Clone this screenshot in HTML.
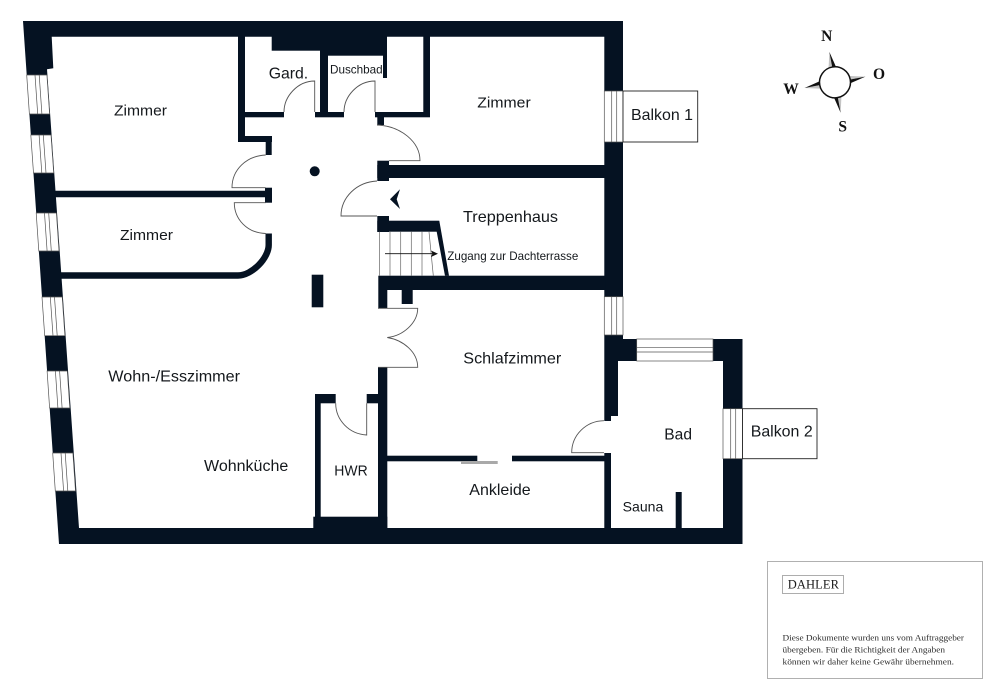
<!DOCTYPE html>
<html lang="de">
<head>
<meta charset="utf-8">
<title>Grundriss</title>
<style>
html,body{margin:0;padding:0;background:#fff;width:1000px;height:700px;overflow:hidden}
svg{display:block}
text{font-family:"Liberation Sans",sans-serif;fill:#14181c}
.s{font-family:"Liberation Serif",serif;fill:#2b2b2b}
</style>
</head>
<body>
<svg width="1000" height="700" viewBox="0 0 1000 700" xmlns="http://www.w3.org/2000/svg">
<rect width="1000" height="700" fill="#fff"/>

<!-- Outer shell -->
<polygon fill="#051222" points="23,21 623,21 623,339 742.5,339 742.5,544 59,544"/>
<!-- Interior -->
<polygon fill="#fff" points="51.7,36.7 604.3,36.7 604.3,528 79,528 47,69.3 53.3,68.3"/>
<polygon fill="#fff" points="618,361 723,361 723,528 611,528 611,453 604,453 604,421 611,421 611,416 618,416"/>

<!-- Walls -->
<g fill="#051222">
<rect x="238" y="36" width="7" height="106"/>
<rect x="238" y="136" width="34" height="6"/>
<rect x="265.7" y="136" width="6" height="19"/>
<rect x="245" y="112" width="39" height="5.3"/>
<rect x="271.7" y="36" width="115.3" height="14.7"/>
<rect x="320" y="50" width="67" height="5.7"/>
<rect x="320" y="50" width="8" height="67"/>
<rect x="383" y="50" width="4" height="28"/>
<rect x="423.3" y="36" width="6.7" height="81"/>
<rect x="315" y="112" width="29" height="5.3"/>
<rect x="375" y="112" width="55" height="5.3"/>
<rect x="377.3" y="117" width="6.7" height="8"/>
<rect x="377.3" y="160.7" width="11.7" height="20.3"/>
<rect x="377.3" y="165" width="228" height="13"/>
<rect x="377.3" y="216" width="11.7" height="16"/>
<rect x="377.3" y="220.7" width="61" height="11"/>
<polygon points="438,220.7 439.3,220.7 449,275.7 445,275.7 436.7,231.7"/>
<rect x="378.3" y="275.7" width="227" height="14.3"/>
<rect x="378.3" y="290" width="9" height="18.3"/>
<rect x="401.7" y="290" width="11" height="14"/>
<rect x="378" y="367" width="9.3" height="162"/>
<rect x="315" y="394" width="20.7" height="9.3"/>
<rect x="366.7" y="394" width="12" height="9.3"/>
<rect x="315" y="394" width="5.7" height="135"/>
<rect x="313.3" y="516.7" width="74" height="12"/>
<rect x="311.7" y="274.7" width="11.6" height="32.6"/>
<polygon points="54,190.7 265.7,190.7 265.7,197.3 55,197.3"/>
<rect x="265" y="187.7" width="7" height="15"/>
<path d="M268.7,233.5 V245 C268.7,258 252,275.5 238,275.5 H60" fill="none" stroke="#051222" stroke-width="6.4"/>
<rect x="387" y="455.7" width="90.3" height="5.6"/>
<rect x="512" y="455.7" width="93" height="5.6"/>
<rect x="675.7" y="492" width="6" height="37"/>
<circle cx="314.7" cy="171.3" r="5"/>
<polygon points="390,199.3 400,189.3 396.7,199.3 400,209"/>
</g>
<rect x="461" y="461" width="36.7" height="3" fill="#a9a9a9"/>

<!-- Doors -->
<g fill="none" stroke="#555" stroke-width="0.9">
<path d="M284,112 C284,96 298,81 314.7,81 V112"/>
<path d="M344,112 C344,96 358,81 375,81 V112"/>
<path d="M377,125 C401,126 420,142 420,160.7 H389"/>
<path d="M377,181 C357,182 341,197 341,216 H377"/>
<path d="M265.7,155 C246,156 232,170 232,187.7 H265.7"/>
<path d="M265.7,233.5 C247,233 234.3,219 234.3,202.7 H265.7"/>
<path d="M378,308.3 H417.7 C417.7,323 403,336 387.3,337.5 C403,340 417.7,352 417.7,367.3 H378"/>
<path d="M366.7,403.3 V435 C349,434 335.7,420 335.7,403.3"/>
<path d="M604,420.7 C586,421 571.7,435 571.7,452.7 H604"/>
</g>

<!-- Stairs -->
<g fill="none" stroke="#666" stroke-width="0.7">
<path d="M379.5,231.7 V275.7 M390,231.7 V275.7 M400.7,231.7 V275.7 M411.3,231.7 V275.7 M422,231.7 V275.7 M429,231.7 L433.3,275.7"/>
</g>
<path d="M385,253.7 H433" stroke="#111" stroke-width="0.8" fill="none"/>
<polygon points="438,253.7 431,250.5 432.5,253.7 431,257" fill="#111"/>

<!-- Windows -->
<g fill="#fff" stroke="#555" stroke-width="0.7">
<path d="M26.7,75 H46.9 L49.6,114 H29.4 Z M35,75 L37.7,114 M39.2,75 L41.9,114"/>
<path d="M30.8,135 H51 L53.7,173 H33.5 Z M39.1,135 L41.8,173 M43.3,135 L46,173"/>
<path d="M36.2,213 H56.4 L59,251 H38.8 Z M44.5,213 L47.1,251 M48.7,213 L51.3,251"/>
<path d="M42,297 H62.2 L64.9,335.7 H44.7 Z M50.3,297 L53,335.7 M54.5,297 L57.2,335.7"/>
<path d="M47.1,371 H67.3 L69.8,408 H49.6 Z M55.4,371 L57.9,408 M59.6,371 L62.1,408"/>
<path d="M52.7,453 H72.9 L75.5,491 H55.3 Z M61,453 L63.6,491 M65.2,453 L67.8,491"/>
<rect x="604.3" y="91" width="18.7" height="51"/>
<path d="M611.7,91 V142 M616.7,91 V142"/>
<rect x="604.3" y="296.7" width="18.7" height="38.3"/>
<path d="M611.7,296.7 V335 M616.7,296.7 V335"/>
<rect x="636.7" y="339" width="76.3" height="22"/>
<path d="M636.7,347.7 H713 M636.7,352 H713"/>
<rect x="723" y="408.7" width="19.5" height="50"/>
<path d="M730.7,408.7 V458.7 M735.7,408.7 V458.7"/>
</g>

<!-- Balconies -->
<rect x="623" y="91" width="74.7" height="51" fill="#fff" stroke="#222" stroke-width="0.9"/>
<rect x="742.5" y="408.7" width="74.5" height="50" fill="#fff" stroke="#222" stroke-width="0.9"/>

<!-- Labels -->
<text x="114" y="115.7" font-size="15" textLength="53" lengthAdjust="spacingAndGlyphs">Zimmer</text>
<text x="120" y="240" font-size="15" textLength="53" lengthAdjust="spacingAndGlyphs">Zimmer</text>
<text x="268.7" y="78.7" font-size="16" textLength="39.5" lengthAdjust="spacingAndGlyphs">Gard.</text>
<text x="330" y="73.3" font-size="12" textLength="52.7" lengthAdjust="spacingAndGlyphs">Duschbad</text>
<text x="477.3" y="107.3" font-size="15" textLength="53.4" lengthAdjust="spacingAndGlyphs">Zimmer</text>
<text x="631" y="120" font-size="16" textLength="62" lengthAdjust="spacingAndGlyphs">Balkon 1</text>
<text x="463" y="222" font-size="16" textLength="95" lengthAdjust="spacingAndGlyphs">Treppenhaus</text>
<text x="447.3" y="260" font-size="12" textLength="131" lengthAdjust="spacingAndGlyphs">Zugang zur Dachterrasse</text>
<text x="108.3" y="381.7" font-size="15.5" textLength="131.7" lengthAdjust="spacingAndGlyphs">Wohn-/Esszimmer</text>
<text x="204" y="471" font-size="15.5" textLength="84.3" lengthAdjust="spacingAndGlyphs">Wohnküche</text>
<text x="334.3" y="475.7" font-size="14.5" textLength="33.4" lengthAdjust="spacingAndGlyphs">HWR</text>
<text x="463.3" y="363.7" font-size="16" textLength="98" lengthAdjust="spacingAndGlyphs">Schlafzimmer</text>
<text x="469.3" y="495" font-size="16" textLength="61.4" lengthAdjust="spacingAndGlyphs">Ankleide</text>
<text x="664.3" y="439.7" font-size="15.5" textLength="27.7" lengthAdjust="spacingAndGlyphs">Bad</text>
<text x="750.7" y="436.7" font-size="16" textLength="62" lengthAdjust="spacingAndGlyphs">Balkon 2</text>
<text x="622.7" y="511.3" font-size="14" textLength="40.6" lengthAdjust="spacingAndGlyphs">Sauna</text>

<!-- Compass -->
<g transform="translate(835,82.3) rotate(-10.5)">
<polygon points="0,-31 -4,-14 0,-15" fill="#c4c4c4"/><polygon points="0,-31 4,-14 0,-15" fill="#111"/>
<g transform="rotate(90)"><polygon points="0,-31 -4,-14 0,-15" fill="#c4c4c4"/><polygon points="0,-31 4,-14 0,-15" fill="#111"/></g>
<g transform="rotate(180)"><polygon points="0,-31 -4,-14 0,-15" fill="#c4c4c4"/><polygon points="0,-31 4,-14 0,-15" fill="#111"/></g>
<g transform="rotate(270)"><polygon points="0,-31 -4,-14 0,-15" fill="#c4c4c4"/><polygon points="0,-31 4,-14 0,-15" fill="#111"/></g>
<circle cx="0" cy="0" r="15.5" fill="#fff" stroke="#111" stroke-width="1.5"/>
</g>
<g font-weight="bold" font-size="15.5" text-anchor="middle">
<text class="s" style="fill:#111" x="826.7" y="41">N</text>
<text class="s" style="fill:#111" x="879" y="79">O</text>
<text class="s" style="fill:#111" x="842.7" y="131.7">S</text>
<text class="s" style="fill:#111" x="791" y="94">W</text>
</g>

<!-- Disclaimer box -->
<rect x="767.5" y="561.5" width="215" height="117" fill="#fff" stroke="#b0b0b0" stroke-width="1"/>
<rect x="782.5" y="575.5" width="61" height="18" fill="#fff" stroke="#999" stroke-width="0.8"/>
<text class="s" style="fill:#1a1a1a" x="787.7" y="588.6" font-size="12.5" textLength="51.3">DAHLER</text>
<text class="s" x="782.5" y="640.3" font-size="8" textLength="181.5" lengthAdjust="spacingAndGlyphs">Diese Dokumente wurden uns vom Auftraggeber</text>
<text class="s" x="782.5" y="652.7" font-size="8" textLength="162.5" lengthAdjust="spacingAndGlyphs">übergeben. Für die Richtigkeit der Angaben</text>
<text class="s" x="782.5" y="664.3" font-size="8" textLength="171.5" lengthAdjust="spacingAndGlyphs">können wir daher keine Gewähr übernehmen.</text>
</svg>
</body>
</html>
